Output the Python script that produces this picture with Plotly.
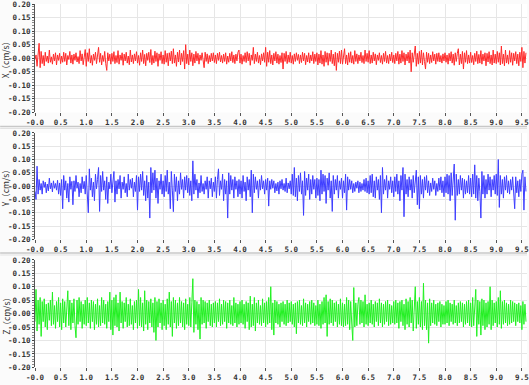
import numpy as np
import plotly.graph_objects as go

# sample interval (s)
dt = 0.02

# X velocity (cm/s), 0.5 s per row
x_vel = [
    -.005, .012, -.030, .018, .055, -.035, .025, -.020, .010, -.028, .022, -.012, .008, -.018, .030, -.015, .005, -.022, .015, -.010, .020, -.025, .012, -.008, .018,
    -.020, .008, -.015, .022, -.012, .018, -.025, .010, -.005, .025, -.018, .012, -.022, .015, -.008, .020, -.014, .006, -.020, .028, -.010, .016, -.024, .010, .032,
    -.030, .020, -.012, .035, -.018, .010, -.026, .015, -.008, .022, -.020, .012, .040, -.015, .018, -.025, .010, -.012, .025, -.020, -.045, .020, -.010, .015, -.022,
    .018, -.012, .024, -.020, .010, -.016, .028, -.022, .012, -.008, .020, -.026, .015, -.010, .022, -.018, .008, -.024, .030, -.014, .012, -.020, .016, -.010, .024,
    -.018, .010, -.026, .020, -.012, .030, -.020, .014, -.028, .018, -.008, .022, -.016, .032, -.024, .010, -.018, .026, -.012, .020, -.030, .016, -.008, .024, -.020,
    .012, -.022, .028, -.015, .018, -.028, .020, -.010, .026, -.020, .035, -.018, .012, -.030, .022, -.014, .030, -.025, .018, -.012, .028, -.040, .050, -.020, .015,
    -.025, .030, -.012, .020, -.028, .015, -.018, .025, -.010, .018, -.022, .012, -.008, .020, -.015, -.035, .022, -.012, .016, -.020, .010, -.014, .018, -.010, .020,
    -.016, .012, -.020, .018, -.008, .022, -.014, .010, -.018, .015, -.012, .020, -.022, .008, -.015, .018, -.010, .024, -.016, .012, -.020, .015, -.010, .022, .030,
    -.018, .015, -.022, .010, -.012, .020, -.016, .024, -.010, .018, -.026, .012, -.008, .040, -.020, .015, -.012, .022, -.018, .010, -.024, .016, -.010, .020, -.015,
    .040, -.030, .022, -.015, .028, -.020, .012, -.025, .018, -.010, .024, -.018, .015, -.022, .010, -.016, .020, -.040, .018, -.012, .025, -.020, .012, -.015, .022,
    -.018, .010, -.022, .016, -.012, .020, -.008, .014, -.020, .012, -.016, .022, -.010, .018, -.024, .010, -.014, .020, -.018, .012, -.010, .024, -.020, .015, -.012,
    .020, -.025, .015, -.018, .028, -.022, .012, -.030, .025, -.015, .020, -.026, .018, -.012, .030, -.020, .015, -.028, .022, -.045, .018, -.015, .026, -.020, .030,
    -.022, .018, .035, -.020, .012, -.025, .020, -.015, .024, -.018, .010, -.022, .028, -.012, .016, -.020, .012, -.010, .022, -.016, .010, -.020, .030, -.012, .018,
    -.015, .028, -.020, .012, -.018, .022, -.010, .016, -.024, .012, -.008, .020, -.016, .010, -.022, .018, -.012, .025, -.018, .010, -.020, .015, -.010, .022, -.016,
    .012, -.020, .018, -.010, .025, -.022, .015, -.018, .028, -.012, .020, -.025, .015, -.010, .022, -.018, .030, -.050, .020, -.015, .028, .045, -.030, .018, -.022,
    .025, -.018, .030, -.025, .020, -.012, -.040, .022, -.015, .018, -.020, .012, -.016, .024, -.010, .015, -.022, .018, -.012, .020, -.014, .010, -.018, .016, -.010,
    .020, -.015, .012, -.022, .018, -.010, .024, -.018, .015, -.026, .020, -.012, .018, .035, -.025, .015, -.020, .025, -.040, .020, -.015, .028, -.020, .012, -.018,
    .022, -.016, .010, -.024, .018, -.012, .026, -.020, .014, -.018, .028, -.022, .015, -.010, .020, -.028, .018, -.014, .024, -.020, .012, -.025, .030, -.018, .015,
    -.020, .025, -.015, .020, -.025, .045, -.020, .015, -.028, .030, -.018, .012, -.022, .028, -.015, .020, -.026, .018, -.010, .024, -.020, .015, -.028, .022, -.012,
    .040, -.035, .025, -.018, .020,
]

# Y velocity (cm/s)
y_vel = [
    -.020, -.050, .075, -.030, .025, -.015, .010, -.030, .020, -.005, .015, -.025, .008, -.018, .030, -.010, .012, -.022, .020, -.008, .010, -.015, .022, -.030, .012,
    -.035, .025, -.085, .040, -.015, .020, -.045, .010, -.060, .035, -.012, .018, -.070, .020, -.020, .040, -.008, .015, -.040, .010, -.025, .035, -.010, .018, -.030,
    .040, -.020, -.100, .065, -.015, .030, -.040, .015, -.055, .045, -.010, .025, .070, -.095, .040, -.020, .055, -.015, .020, -.050, .035, -.065, .015, -.010, .045,
    -.025, .015, .055, -.060, .020, -.030, .025, -.010, .040, -.045, .015, -.012, .035, -.025, .010, -.040, .045, -.015, .025, -.008, .030, -.040, .015, -.020, .040,
    -.090, .035, -.020, .045, -.015, .055, -.035, .020, -.055, .040, -.045, .015, -.120, .070, -.025, .050, -.015, .060, -.045, .030, -.065, .020, -.012, .045, -.030,
    .020, -.040, .040, -.020, .060, -.030, .015, -.085, .055, -.015, -.096, .045, -.020, .035, -.055, .020, -.030, .050, -.012, .025, -.045, .035, -.015, .040, -.025,
    .030, -.035, .020, -.055, .095, -.030, .045, -.015, .025, -.045, .012, -.025, .040, -.020, .010, -.030, .020, -.012, .035, -.045, .020, -.010, .030, -.040, .015,
    -.020, .035, -.045, .025, .065, -.035, .020, -.012, .045, -.055, .025, -.030, .020, -.120, .050, -.030, .040, -.015, .025, -.045, .035, -.012, .020, -.040, .025,
    -.030, .020, -.045, .040, -.020, .015, -.055, .035, -.015, .025, -.040, .060, -.100, .045, -.025, .035, -.012, .020, -.045, .025, -.015, .040, -.010, .020, -.030,
    .025, -.015, .030, -.075, .020, -.012, .025, -.008, .020, -.025, .010, -.018, .015, -.030, .020, -.010, .025, -.015, .010, -.020, .030, -.025, .012, -.010, .020,
    -.030, .045, -.035, .070, -.040, .030, -.055, .040, -.020, .050, -.030, .020, -.110, .055, -.035, .030, -.015, .045, -.050, .025, -.030, .040, -.012, .025, -.045,
    .030, -.035, .025, -.055, .060, -.030, .045, -.020, .040, -.065, .030, -.015, .050, -.045, .020, -.095, .040, -.030, .025, -.015, .040, -.045, .020, -.012, .030,
    -.045, .020, -.025, .045, -.090, .035, -.015, .025, -.012, .020, -.025, .010, -.020, .015, -.008, .020, -.025, .015, -.020, .010, -.015, .025, -.020, .030, -.025,
    .020, -.030, .040, -.025, .045, -.040, .020, -.045, .035, -.015, .025, -.050, .040, -.100, .070, -.030, .025, -.015, .040, -.045, .020, -.012, .035, -.025, .020,
    -.040, .035, -.020, .045, -.030, .020, -.055, .040, -.015, .070, -.115, .045, -.030, .025, -.040, .035, -.015, .025, -.045, .040, -.025, .020, .060, -.070, .035,
    -.085, .040, -.030, .025, -.045, .035, -.015, .040, -.025, .020, -.035, .012, -.020, .030, -.012, .020, -.035, .010, -.020, .030, -.015, .035, -.025, .020, -.040,
    .035, -.025, .045, -.030, .040, -.055, .050, -.035, .030, .083, -.128, .045, -.035, .025, -.030, .040, -.015, .030, -.045, .025, -.030, .020, -.025, .040, -.030,
    .030, -.040, .045, -.030, .080, -.045, .040, -.055, .030, -.020, -.120, .055, -.030, .040, -.045, .025, -.030, .045, -.015, .035, -.040, .025, -.015, .040, -.030,
    .045, -.035, .100, -.080, .040, -.030, .025, -.045, .035, -.015, .040, -.025, .020, -.030, .025, -.015, .035, -.045, -.085, .035, -.025, .020, -.040, .025, -.020,
    .045, .060, -.090, .035, -.020,
]

# Z velocity (cm/s)
z_vel = [
    -.030, .090, -.065, .050, -.040, .060, -.085, .045, -.030, .055, -.050, .035, -.060, .040, -.025, .050, -.045, .080, -.040, .030, -.055, .045, -.030, .060, -.050,
    .040, -.060, .055, -.035, .045, -.050, .030, .085, -.045, .050, -.060, .040, -.035, .055, -.045, -.090, .050, -.040, .060, -.030, .045, -.055, .035, -.040, .050,
    -.045, .060, -.035, .040, -.055, .050, -.030, .045, -.060, .035, -.040, .055, -.050, .030, -.045, .060, -.035, .050, -.040, .035, -.055, .045, -.030, .080, -.060,
    .050, -.080, .060, -.045, .070, -.050, .040, -.065, .080, -.035, .045, -.055, .040, -.030, .060, -.050, .035, -.045, .055, -.040, .030, -.060, .045, -.035, .050,
    -.055, .090, -.045, .060, -.050, .040, -.065, .085, -.040, .050, -.060, .045, -.035, .055, -.050, .040, -.070, .060, -.100, .045, -.050, .055, -.035, .040, -.060,
    .050, -.045, .035, -.060, .055, -.040, .080, -.050, .045, -.085, .060, -.035, .050, -.055, .040, -.045, .060, -.035, .045, -.050, .040, -.060, .055, -.040, .035,
    -.045, .060, -.050, .040, .130, -.070, .050, -.040, .045, -.060, .035, -.095, .060, -.040, .050, -.035, .045, -.055, .040, -.030, .050, -.045, .035, -.050, .040,
    -.035, .045, -.050, .040, -.030, .055, -.045, .035, -.040, .050, -.030, .045, -.055, .040, -.035, .050, -.040, .030, -.045, .060, -.035, .040, -.050, .035, -.040,
    .045, -.035, .050, -.040, .035, -.055, .045, -.030, .040, -.060, .065, -.050, .035, -.045, .060, -.065, .040, -.035, .050, -.040, .030, -.045, .055, -.035, .040,
    -.050, .045, -.040, .060, -.035, .100, -.060, .040, -.080, .050, -.035, .045, -.040, .035, -.050, .040, -.030, .045, -.040, .035, -.045, .050, -.035, .040, -.030,
    .045, -.040, .035, -.050, .040, -.075, .045, -.035, .050, -.040, .030, -.045, .055, -.035, .040, -.050, .035, -.030, .045, -.040, .050, -.035, .040, -.045, .030,
    -.040, .050, -.045, .035, -.055, .045, -.040, .060, -.035, .070, -.085, .045, -.040, .055, -.035, .050, -.045, .040, -.030, .045, -.050, .035, -.040, .055, -.045,
    .040, -.050, .035, -.045, .060, -.040, .050, -.060, .045, -.035, -.100, .097, -.050, .040, -.045, .035, .060, -.040, .050, -.035, .045, -.050, .070, -.040, .035,
    -.045, .040, -.035, .050, -.040, .035, -.050, .045, -.030, .040, -.045, .055, -.035, .040, -.050, .035, -.040, .045, -.030, .050, -.045, .035, -.040, .030, -.035,
    .045, -.040, .050, -.035, .040, -.055, .045, -.030, .050, -.045, .035, -.060, .055, -.040, .045, -.050, .060, -.035, .050, -.065, .040, .100, -.055, .045, -.040,
    .060, -.050, .045, -.060, .113, -.045, .050, -.060, .040, -.110, .055, -.045, .040, -.035, .050, -.040, .035, -.045, .040, -.030, .045, -.050, .035, -.040, .030,
    -.040, .045, -.035, .050, -.045, .040, -.030, .035, -.040, .050, -.035, .030, -.045, .040, -.035, .045, -.030, .040, -.050, .035, -.040, .045, -.035, .050, -.045,
    .040, -.050, .060, -.045, .055, .090, -.085, .050, -.040, .045, -.080, .055, -.045, .050, -.060, .040, -.050, .045, -.040, .100, -.060, .050, -.045, .040, -.035,
    .045, -.050, .060, -.040, .085, -.055, .045, -.040, .050, -.035, .040, -.045, .035, -.040, .050, -.035, .045, -.030, .040, -.045, .035, -.030, .040, -.035, .030,
    -.060, .045, -.040, .035, -.030,
]

series_names = ["X（cm/s）", "Y（cm/s）", "Z（cm/s）"]
series_colors = ["#ff2a2a", "#3d3dff", "#22f022"]

x_tick_vals = [0.0, 0.5, 1.0, 1.5, 2.0, 2.5, 3.0, 3.5, 4.0, 4.5, 5.0, 5.5, 6.0, 6.5, 7.0, 7.5, 8.0, 8.5, 9.0, 9.5]
x_tick_text = ["-0.0", "0.5", "1.0", "1.5", "2.0", "2.5", "3.0", "3.5", "4.0", "4.5", "5.0", "5.5", "6.0", "6.5", "7.0", "7.5", "8.0", "8.5", "9.0", "9.5"]
y_tick_vals = [-0.20, -0.15, -0.10, -0.05, 0.0, 0.05, 0.10, 0.15, 0.20]
y_tick_text = ["-0.20", "-0.15", "-0.10", "-0.05", "-0.00", "0.05", "0.10", "0.15", "0.20"]

W, H = 529, 385
ML = 35
PW = W - ML
domains = [[1 - 111 / H, 1.0], [1 - 241 / H, 1 - 132 / H], [1 - 372 / H, 1 - 262 / H]]

fig = go.Figure()
all_series = [x_vel, y_vel, z_vel]
tickfont = dict(family="DejaVu Sans Mono", size=7.5, color="#333333", weight="bold")

for i, vals in enumerate(all_series):
    t = np.arange(len(vals)) * dt
    sfx = "" if i == 0 else str(i + 1)
    fig.add_trace(go.Scatter(x=t, y=vals, mode="lines",
                             line=dict(color=series_colors[i], width=1),
                             xaxis="x" + sfx, yaxis="y" + sfx, showlegend=False,
                             hoverinfo="skip"))
    fig.layout["xaxis" + sfx] = dict(
        domain=[0, 1], anchor="y" + sfx, range=[0, 9.6],
        tickmode="array", tickvals=x_tick_vals, ticktext=x_tick_text,
        ticks="outside", ticklen=3, tickcolor="#555555", tickfont=tickfont,
        ticklabeloverflow="allow",
        showgrid=True, gridcolor="#e6e6e6", gridwidth=1,
        showline=False, zeroline=False, fixedrange=True)
    fig.layout["yaxis" + sfx] = dict(
        domain=domains[i], anchor="x" + sfx, range=[-0.2, 0.2],
        tickmode="array", tickvals=y_tick_vals, ticktext=y_tick_text,
        ticks="outside", ticklen=2, tickcolor="#444444", tickfont=tickfont,
        ticklabeloverflow="allow",
        minor=dict(ticks="outside", ticklen=2, tickcolor="#888888", dtick=0.01, tick0=0, showgrid=False),
        showgrid=True, gridcolor="#e6e6e6", gridwidth=1,
        showline=True, linecolor="#555555", linewidth=1,
        zeroline=False, fixedrange=True)
    ymid = (domains[i][0] + domains[i][1]) / 2
    fig.add_annotation(text=series_names[i], xref="paper", yref="paper",
                       x=(5 - ML) / PW, y=ymid, textangle=-90, showarrow=False,
                       xanchor="center", yanchor="middle",
                       font=dict(family="Noto Sans CJK SC", size=8.5, color="#333333"))

# panel separators
for py in [125.5, 255.0]:
    yp = 1 - py / H
    fig.add_shape(type="line", xref="paper", yref="paper", x0=-ML / PW, x1=1,
                  y0=yp, y1=yp, line=dict(color="#c8c8c8", width=1.5))
    yp2 = 1 - (py + 2) / H
    fig.add_shape(type="line", xref="paper", yref="paper", x0=-ML / PW, x1=1,
                  y0=yp2, y1=yp2, line=dict(color="#e2e2e2", width=1))

fig.update_layout(width=W, height=H, margin=dict(l=ML, r=0, t=0, b=0),
                  paper_bgcolor="#fbfbfb", plot_bgcolor="#ffffff")

fig.write_html("out.html", config={"displayModeBar": False},
               post_script="document.body.style.margin='0';")
